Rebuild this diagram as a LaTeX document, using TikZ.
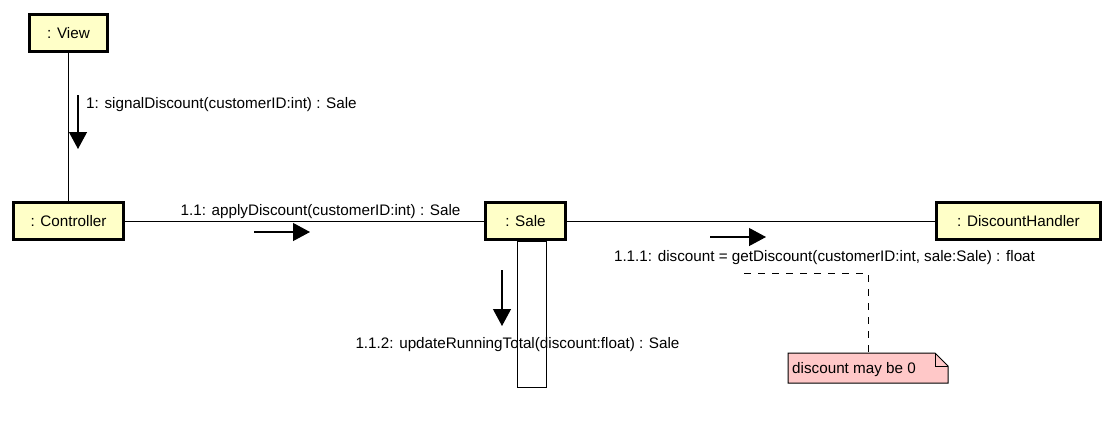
\documentclass[tikz,border=0pt]{standalone}
\usepackage{fontspec}
\setmainfont{Liberation Sans}
\usetikzlibrary{arrows.meta}
\definecolor{objfill}{RGB}{255,255,200}
\definecolor{notefill}{RGB}{255,200,200}
\newcommand\dfont{\fontsize{15.3}{18}\selectfont}
\begin{document}
\begin{tikzpicture}[x=1bp,y=-1bp,
  obj/.style={draw=black,line width=3bp,fill=objfill,minimum height=37bp,inner sep=0pt,font=\dfont},
  link/.style={draw=black,line width=1bp},
  msg/.style={draw=black,line width=1.2bp,-{Triangle[length=17bp,width=18bp]}},
  lbl/.style={inner sep=0pt,font=\dfont},
  notedash/.style={draw=black,line width=1bp,dash pattern=on 7bp off 7bp}
  ]
\useasboundingbox (0,0) rectangle (1113,428);
% activation bar
\node[draw=black,line width=1bp,fill=white,minimum width=29bp,minimum height=146bp,inner sep=0pt] (act) at (531.5,314) {};
% objects
\node[obj,minimum width=77bp] (view) at (68.5,33) {: View};
\node[obj,minimum width=109bp] (ctrl) at (68.5,221) {: Controller};
\node[obj,minimum width=80bp] (sale) at (525.5,221) {: Sale};
\node[obj,minimum width=164bp] (dh) at (1018.5,221) {: DiscountHandler};
% links
\draw[link] (view.south) -- (view.south |- ctrl.north);
\draw[link] (ctrl.east) -- (sale.west);
\draw[link] (sale.east) -- (dh.west);
% messages
\coordinate (m1s) at (78,95);  \coordinate (m1e) at (78,149);
\coordinate (m2s) at (254,232); \coordinate (m2e) at (310,232);
\coordinate (m3s) at (710,237); \coordinate (m3e) at (766,237);
\coordinate (m4s) at (502,270); \coordinate (m4e) at (502,326);
\draw[msg] (m1s) -- (m1e);
\draw[msg] (m2s) -- (m2e);
\draw[msg] (m3s) -- (m3e);
\draw[msg] (m4s) -- (m4e);
\node[lbl,anchor=base west] (l1) at (86,108) {1: signalDiscount(customerID:int) : Sale};
\node[lbl,anchor=base] (l2) at (320.5,215) {1.1: applyDiscount(customerID:int) : Sale};
\node[lbl,anchor=base] (l3) at (824.5,261) {1.1.1: discount = getDiscount(customerID:int, sale:Sale) : float};
\node[lbl,anchor=base] (l4) at (517.5,348) {1.1.2: updateRunningTotal(discount:float) : Sale};
% note
\draw[link,fill=notefill] (788,353) -- (935,353) -- (948,366) -- (948,383) -- (788,383) -- cycle;
\draw[link] (935,353) -- (935,366) -- (948,366);
\node[lbl,anchor=base west] (note) at (792,373) {discount may be 0};
\coordinate (d1) at (744,273);
\coordinate (d2) at (868,273);
\coordinate (notetop) at (868,353);
\draw[notedash] (d1) -- (d2) -- (notetop);
\end{tikzpicture}
\end{document}
